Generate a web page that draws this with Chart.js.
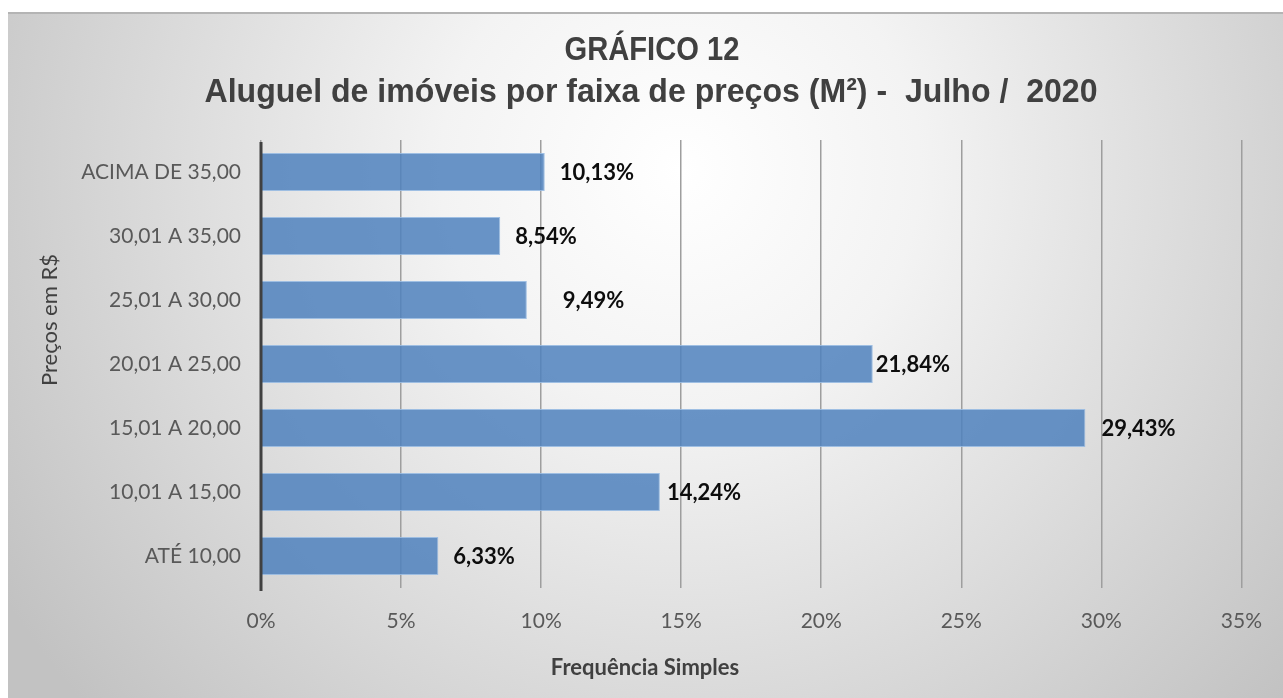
<!DOCTYPE html>
<html>
<head>
<meta charset="utf-8">
<script src="https://cdn.jsdelivr.net/npm/chart.js@4.4.1/dist/chart.umd.min.js"></script>
<style>
  html, body { margin: 0; padding: 0; background: #fff; }
  #wrap { width: 1283px; height: 698px; position: relative; }
</style>
</head>
<body>
<div id="wrap"><canvas id="grafico"></canvas></div>
<script>
// dados do gráfico
const faixas = ['ACIMA DE 35,00', '30,01 A 35,00', '25,01 A 30,00', '20,01 A 25,00', '15,01 A 20,00', '10,01 A 15,00', 'ATÉ 10,00'];
const frequencias = [10.13, 8.54, 9.49, 21.84, 29.43, 14.24, 6.33];
const ticksX = [0, 5, 10, 15, 20, 25, 30, 35];

const titulo1 = 'GRÁFICO 12';
const titulo2 = 'Aluguel de imóveis por faixa de preços (M²) -  Julho /  2020';
const tituloX = 'Frequência Simples';
const tituloY = 'Preços em R$';

// deslocamento dos rótulos de cada barra (px)
const offsetRotulos = [15, 15, 36, 3, 16, 7, 15];

const fmt = v => v.toFixed(2).replace('.', ',') + '%';

const fundo = {
  id: 'fundo',
  beforeDraw(chart) {
    const { ctx, width, height } = chart;
    ctx.save();
    ctx.fillStyle = '#ffffff';
    ctx.fillRect(0, 0, width, height);
    const g = ctx.createRadialGradient(680, 170, 0, 680, 170, 800);
    g.addColorStop(0, '#ffffff');
    g.addColorStop(0.3, '#f3f3f3');
    g.addColorStop(1, '#c2c2c2');
    ctx.fillStyle = g;
    ctx.fillRect(8, 12, width - 8, height - 12);
    ctx.fillStyle = '#b4b4b4';
    ctx.fillRect(8, 12, width - 8, 2);
    ctx.restore();
  }
};

const textos = {
  id: 'textos',
  afterDraw(chart) {
    const { ctx } = chart;
    ctx.save();
    ctx.fillStyle = '#404040';
    ctx.textAlign = 'center';
    ctx.textBaseline = 'middle';
    ctx.font = 'bold 33px "Liberation Sans", Arial, sans-serif';
    ctx.save();
    ctx.translate(652, 51);
    ctx.scale(0.883, 1);
    ctx.fillText(titulo1, 0, 0);
    ctx.restore();
    ctx.save();
    ctx.translate(651, 93);
    ctx.scale(0.972, 1);
    ctx.fillText(titulo2, 0, 0);
    ctx.restore();

    ctx.font = 'bold 22px Lato, sans-serif';
    ctx.fillText(tituloX, 645, 668);

    ctx.font = '22px Lato, sans-serif';
    ctx.translate(50, 320);
    ctx.rotate(-Math.PI / 2);
    ctx.fillText(tituloY, 0, 0);
    ctx.restore();
  },
  afterDatasetsDraw(chart) {
    const { ctx } = chart;
    const meta = chart.getDatasetMeta(0);
    ctx.save();
    ctx.font = 'bold 22px Lato, sans-serif';
    ctx.fillStyle = '#0d0d0d';
    ctx.textAlign = 'left';
    ctx.textBaseline = 'middle';
    meta.data.forEach((bar, i) => {
      ctx.fillText(fmt(frequencias[i]), bar.x + offsetRotulos[i], bar.y + 1);
    });
    // eixo vertical por cima das barras
    const area = chart.chartArea;
    ctx.fillStyle = '#404040';
    ctx.fillRect(area.left - 1.5, area.top + 2, 3, area.bottom - area.top + 1);
    ctx.restore();
  }
};

new Chart(document.getElementById('grafico'), {
  type: 'bar',
  data: {
    labels: faixas,
    datasets: [{
      data: frequencias,
      backgroundColor: 'rgba(79, 129, 189, 0.85)',
      borderColor: 'rgba(150, 185, 225, 0.9)',
      borderWidth: 1,
      barPercentage: 0.59,
      categoryPercentage: 1
    }]
  },
  options: {
    indexAxis: 'y',
    responsive: true,
    maintainAspectRatio: false,
    animation: false,
    layout: { padding: { top: 140, right: 41, bottom: 0, left: 0 } },
    plugins: {
      legend: { display: false },
      tooltip: { enabled: false }
    },
    scales: {
      x: {
        min: 0,
        max: 35,
        afterFit: s => { s.height = 110; },
        afterBuildTicks: s => { s.ticks = ticksX.map(v => ({ value: v })); },
        grid: { color: '#9e9e9e', lineWidth: 1.5, drawTicks: false },
        border: { display: false },
        ticks: {
          padding: 21,
          color: '#595959',
          font: { family: 'Lato', size: 21 },
          callback: v => v + '%'
        }
      },
      y: {
        afterFit: s => { s.width = 261; },
        grid: { display: false, drawTicks: false },
        border: { display: false },
        ticks: {
          padding: 20,
          color: '#595959',
          font: { family: 'Lato', size: 21 }
        }
      }
    }
  },
  plugins: [fundo, textos]
});
</script>
</body>
</html>
